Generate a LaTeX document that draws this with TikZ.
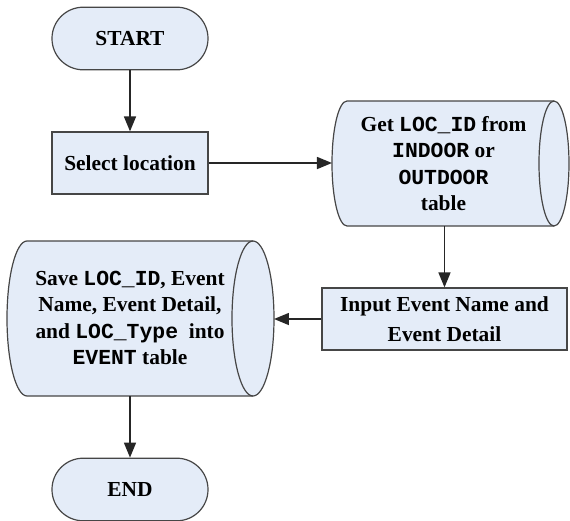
\documentclass[tikz,border=0pt]{standalone}
\usepackage{fontspec}
\setmainfont{Liberation Serif}
\setmonofont{Liberation Mono}
\usetikzlibrary{arrows.meta}
\definecolor{boxfill}{RGB}{228,236,248}
\definecolor{boxline}{RGB}{70,70,70}
\newcommand{\cd}[1]{{\ttfamily\bfseries #1}}
\begin{document}
\begin{tikzpicture}[x=0.5pt,y=-0.5pt,
  font=\fontsize{10.7}{13.2}\selectfont\bfseries,
  terminal/.style={draw=boxline, fill=boxfill, line width=0.6pt,
    rounded corners=15.6pt, minimum width=78pt, minimum height=31.3pt, inner sep=0pt},
  process/.style={draw=boxline, fill=boxfill, line width=0.6pt,
    rectangle, inner sep=0pt, align=center},
  shapebox/.style={inner sep=0pt, outer sep=0pt},
  txt/.style={align=center, inner sep=0pt},
  cyl/.style={draw=boxline, fill=boxfill, line width=0.6pt},
  flow/.style={line width=0.75pt, draw=black!85,
    -{Triangle[length=7.5pt,width=6pt]}}]
\useasboundingbox (0,0) rectangle (570,521);

% start / end terminals and process boxes
\node[terminal] (start) at (130,38.5) {START};
\node[process, minimum width=78pt, minimum height=31pt] (select) at (130,163) {Select location};
\node[process, minimum width=122.5pt, minimum height=31pt,
  font=\fontsize{10.7}{15}\selectfont\bfseries] (input) at (444.5,319)
  {Input Event Name and\\Event Detail};
\node[terminal] (endn) at (130,489.5) {END};

% stored-data cylinder: lookup table
\draw[cyl] (347,101) -- (554,101)
  arc[start angle=90, end angle=-90, x radius=7.5pt, y radius=31.25pt]
  -- (347,226)
  arc[start angle=270, end angle=90, x radius=7.5pt, y radius=31.25pt] -- cycle;
\draw[cyl, fill=none] (554,101)
  arc[start angle=90, end angle=270, x radius=7.5pt, y radius=31.25pt];
\node[shapebox, minimum width=118.5pt, minimum height=62.5pt] (getbox) at (450.5,163.5) {};
\node[txt] (get) at (443.5,163.5)
  {Get \cd{LOC\_ID} from\\\cd{INDOOR} or\\\cd{OUTDOOR}\\table};

% stored-data cylinder: event table
\draw[cyl] (27,241) -- (253,241)
  arc[start angle=90, end angle=-90, x radius=10.5pt, y radius=38.75pt]
  -- (27,396)
  arc[start angle=270, end angle=90, x radius=10pt, y radius=38.75pt] -- cycle;
\draw[cyl, fill=none] (253,241)
  arc[start angle=90, end angle=270, x radius=10.5pt, y radius=38.75pt];
\node[shapebox, minimum width=133.5pt, minimum height=77.5pt] (savebox) at (140.5,318.5) {};
\node[txt] (save) at (130,318)
  {Save \cd{LOC\_ID}, Event\\Name, Event Detail,\\and \cd{LOC\_Type}\ \ into\\\cd{EVENT} table};

% connectors
\draw[flow] (start) -- (select);
\draw[flow] (select.east) -- (select.east -| getbox.west);
\draw[flow] (input.north |- getbox.south) -- (input.north);
\draw[flow] (input.west) -- (input.west -| savebox.east);
\draw[flow] (endn.north |- savebox.south) -- (endn.north);
\end{tikzpicture}
\end{document}
